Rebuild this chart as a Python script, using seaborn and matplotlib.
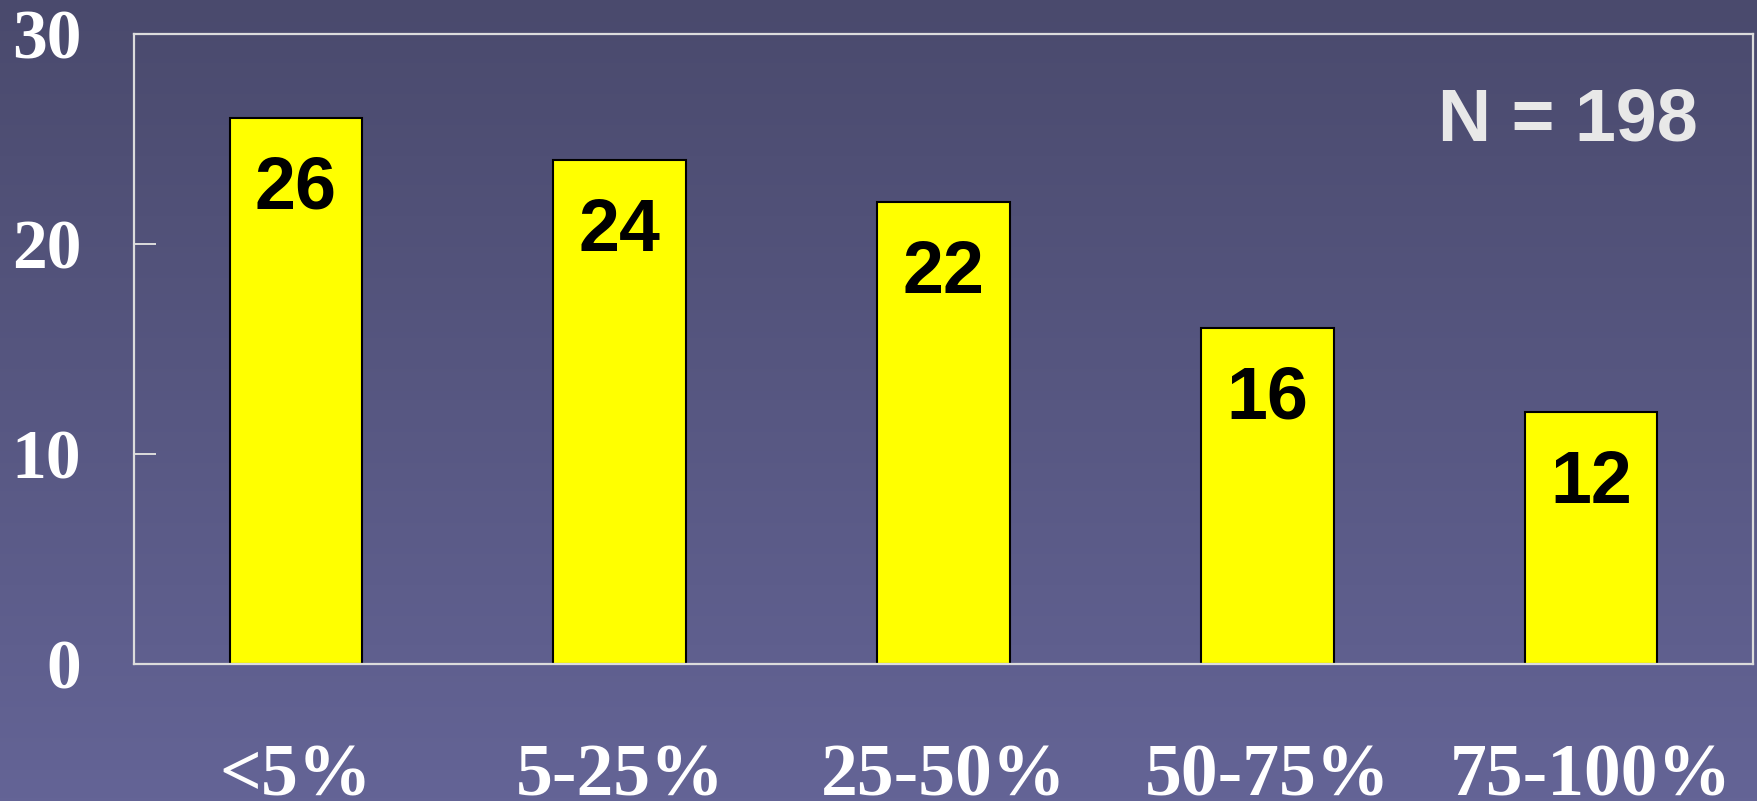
import numpy as np
import pandas as pd
import seaborn as sns
import matplotlib.pyplot as plt
from matplotlib.colors import LinearSegmentedColormap

# data
categories = ["<5%", "5-25%", "25-50%", "50-75%", "75-100%"]
counts = [26, 24, 22, 16, 12]
yticks = [0, 10, 20, 30]
n_label = "N = 198"

df = pd.DataFrame({"range": categories, "count": counts})

sns.set_style("white")

W, H = 1758, 801
fig = plt.figure(figsize=(W / 100, H / 100), dpi=100)

# slide background gradient (dark on top, lighter at bottom)
bg = fig.add_axes([0, 0, 1, 1], zorder=-10)
grad = np.linspace(0, 1, 256).reshape(-1, 1)
cmap = LinearSegmentedColormap.from_list("bg", ["#4a4a6d", "#646496"])
bg.imshow(grad, aspect="auto", cmap=cmap, extent=[0, 1, 0, 1], origin="upper")
bg.axis("off")

# axes box in pixels: x 134..1753, y 34..664
ax = fig.add_axes([134 / W, 1 - 664 / H, (1753 - 134) / W, (664 - 34) / H])
ax.set_facecolor("none")

sns.barplot(data=df, x="range", y="count", color="#ffff00", saturation=1,
            width=0.41, edgecolor="black", linewidth=1.5, ax=ax)

ax.set_xlim(-0.5, 4.5)
ax.set_ylim(0, 30)
ax.set_yticks(yticks)
ax.set_xlabel("")
ax.set_ylabel("")

for s in ax.spines.values():
    s.set_visible(True)
    s.set_color("#dcdcdc")
    s.set_linewidth(1.6)

ax.tick_params(axis="y", direction="in", length=16, width=1.4, color="#dcdcdc",
               left=True, pad=38, labelcolor="white")
ax.tick_params(axis="x", bottom=False, pad=54, labelcolor="white")
for lab in ax.get_yticklabels():
    lab.set_fontfamily("Liberation Serif")
    lab.set_fontweight("bold")
    lab.set_fontsize(50)
for lab in ax.get_xticklabels():
    lab.set_fontfamily("Liberation Serif")
    lab.set_fontweight("bold")
    lab.set_fontsize(53)

# value labels inside the bars
for i, v in enumerate(counts):
    ax.text(i, v - 3.4, str(v), ha="center", va="center", color="black",
            fontsize=53, fontweight="bold", family="Liberation Sans")

ax.text(0.966, 0.862, n_label, transform=ax.transAxes, ha="right", va="center",
        color="#e8e8e8", fontsize=53, fontweight="bold", family="Liberation Sans")

fig.savefig("out.png", dpi=100)
